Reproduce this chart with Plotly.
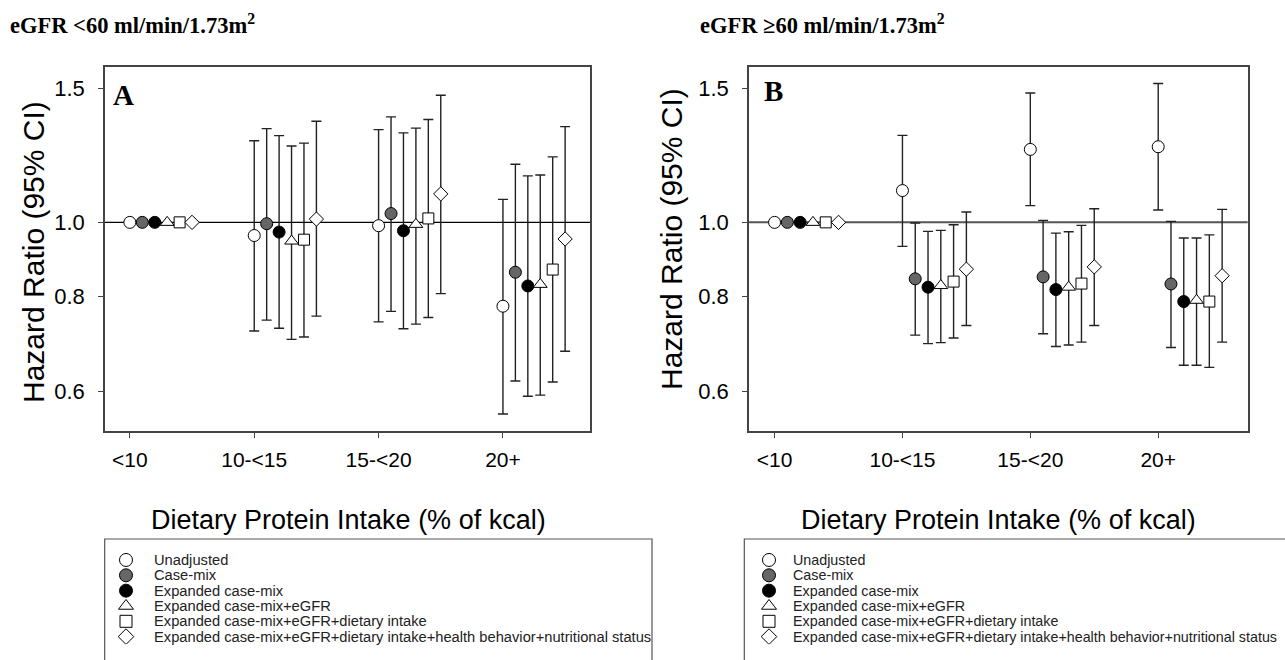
import math
import plotly.graph_objects as go

W, H = 1285, 660

categories = ["<10", "10-<15", "15-<20", "20+"]
models = [
    "Unadjusted",
    "Case-mix",
    "Expanded case-mix",
    "Expanded case-mix+eGFR",
    "Expanded case-mix+eGFR+dietary intake",
    "Expanded case-mix+eGFR+dietary intake+health behavior+nutritional status",
]

# Panel A: eGFR <60 ; reference category (<10) HR = 1.0 for every model
ref_hr = [1.0, 1.0, 1.0, 1.0, 1.0, 1.0]
a_hr = [
    [0.961, 0.990, 0.776],
    [0.996, 1.027, 0.860],
    [0.971, 0.975, 0.825],
    [0.945, 0.994, 0.829],
    [0.949, 1.012, 0.867],
    [1.010, 1.090, 0.951],
]
a_lo = [
    [0.720, 0.740, 0.560],
    [0.744, 0.764, 0.619],
    [0.726, 0.725, 0.591],
    [0.702, 0.735, 0.593],
    [0.707, 0.750, 0.617],
    [0.753, 0.806, 0.677],
]
a_hi = [
    [1.280, 1.324, 1.072],
    [1.328, 1.376, 1.192],
    [1.300, 1.311, 1.151],
    [1.260, 1.330, 1.154],
    [1.271, 1.365, 1.219],
    [1.358, 1.469, 1.336],
]

# Panel B: eGFR >=60
b_hr = [
    [1.101, 1.247, 1.257],
    [0.843, 0.848, 0.830],
    [0.822, 0.816, 0.787],
    [0.826, 0.822, 0.790],
    [0.836, 0.831, 0.787],
    [0.868, 0.874, 0.851],
]
b_lo = [
    [0.930, 1.052, 1.038],
    [0.711, 0.714, 0.685],
    [0.693, 0.687, 0.649],
    [0.695, 0.690, 0.649],
    [0.705, 0.696, 0.645],
    [0.732, 0.732, 0.696],
]
b_hi = [
    [1.301, 1.479, 1.522],
    [0.998, 1.006, 1.003],
    [0.973, 0.968, 0.954],
    [0.976, 0.972, 0.954],
    [0.993, 0.991, 0.963],
    [1.032, 1.042, 1.040],
]

y_ticks = [0.6, 0.8, 1.0, 1.5]

# ---- styles ----
symbols = ["circle", "circle", "circle", "triangle-up", "square", "diamond"]
fills = ["white", "#666666", "black", "white", "white", "white"]
sizes = [12, 12, 12, 12, 11, 11]
offset_step = 0.1

def px_x(v):
    return v / W

def px_y(v):
    return 1 - v / H

fig = go.Figure()

panels = [
    ("x", "y", a_hr, a_lo, a_hi),
    ("x2", "y2", b_hr, b_lo, b_hi),
]

for xa, ya, hr, lo, hi in panels:
    for k, name in enumerate(models):
        marker = dict(symbol=symbols[k], color=fills[k], size=sizes[k],
                      line=dict(color="black", width=1))
        # reference category point (no CI)
        fig.add_trace(go.Scatter(
            x=[0 + offset_step * k], y=[ref_hr[k]], mode="markers",
            marker=marker, xaxis=xa, yaxis=ya, showlegend=False, name=name,
        ))
        xs = [i + offset_step * k for i in range(1, len(categories))]
        fig.add_trace(go.Scatter(
            x=xs, y=hr[k], mode="markers", marker=marker,
            xaxis=xa, yaxis=ya, showlegend=False, name=name,
            error_y=dict(type="data", symmetric=False,
                         array=[h - v for h, v in zip(hi[k], hr[k])],
                         arrayminus=[v - l for v, l in zip(hr[k], lo[k])],
                         color="#222222", thickness=1.4, width=5),
        ))

# ---- manual legends (hidden overlay axis in pixel units) ----
legend_rows_y = [560 + 15.33 * i for i in range(len(models))]
legend_sets = [(126, 152), (769, 791)]
for mx, tx in legend_sets:
    for k, name in enumerate(models):
        fig.add_trace(go.Scatter(
            x=[mx], y=[k], mode="markers",
            marker=dict(symbol=symbols[k], color=fills[k], size=sizes[k] + 1,
                        line=dict(color="black", width=1)),
            xaxis="x3", yaxis="y3", showlegend=False, hoverinfo="skip",
        ))

axis_common = dict(
    showline=True, mirror=True, linecolor="#444444", linewidth=1.5,
    ticks="outside", ticklen=5, tickcolor="#444444", tickwidth=1.2,
    showgrid=False, zeroline=False,
)
y_dom = [px_y(431), px_y(67)]
yrange = [math.log10(0.532), math.log10(1.6)]
cat_text = [c.replace("<", "&lt;") for c in categories]

fig.update_layout(
    width=W, height=H,
    margin=dict(l=0, r=0, t=0, b=0),
    paper_bgcolor="white", plot_bgcolor="white",
    font=dict(family="Liberation Sans, Arial, sans-serif", color="black"),
    showlegend=False,
    xaxis=dict(domain=[px_x(105), px_x(590)], range=[-0.2, 3.7], anchor="y",
               tickvals=list(range(len(categories))), ticktext=cat_text,
               tickfont=dict(size=21), ticklabelstandoff=4, **axis_common),
    yaxis=dict(domain=y_dom, type="log", range=yrange, anchor="x",
               tickvals=y_ticks, ticktext=[f"{t:.1f}" for t in y_ticks],
               tickfont=dict(size=22), ticklabelstandoff=9, **axis_common),
    xaxis2=dict(domain=[px_x(749), px_x(1247.7)], range=[-0.2, 3.7], anchor="y2",
                tickvals=list(range(len(categories))), ticktext=cat_text,
                tickfont=dict(size=21), ticklabelstandoff=4, **axis_common),
    yaxis2=dict(domain=y_dom, type="log", range=yrange, anchor="x2",
                tickvals=y_ticks, ticktext=[f"{t:.1f}" for t in y_ticks],
                tickfont=dict(size=22), ticklabelstandoff=9, **axis_common),
    xaxis3=dict(domain=[0, 1], range=[0, W], visible=False, anchor="y3",
                fixedrange=True),
    yaxis3=dict(domain=[px_y(644.3), px_y(552.3)], range=[5.5, -0.5],
                visible=False, anchor="x3", fixedrange=True),
)

# reference lines at HR = 1.0
fig.add_shape(type="line", xref="x domain", yref="y", x0=0, x1=1, y0=1.0, y1=1.0,
              line=dict(color="black", width=1.3), layer="below")
fig.add_shape(type="line", xref="x2 domain", yref="y2", x0=0, x1=1, y0=1.0, y1=1.0,
              line=dict(color="#555555", width=2), layer="below")

# legend boxes
fig.add_shape(type="rect", xref="paper", yref="paper",
              x0=px_x(104.7), x1=px_x(652), y0=-0.05, y1=px_y(539),
              line=dict(color="#555555", width=1.2))
fig.add_shape(type="rect", xref="paper", yref="paper",
              x0=px_x(744.3), x1=1.05, y0=-0.05, y1=px_y(539),
              line=dict(color="#555555", width=1.2))

ann = []
for (mx, tx), fs in zip(legend_sets, [14.7, 14.3]):
    for k, name in enumerate(models):
        ann.append(dict(x=px_x(tx), y=px_y(legend_rows_y[k]), xref="paper", yref="paper",
                        text=name, showarrow=False, xanchor="left", yanchor="middle",
                        font=dict(size=fs, color="#222222")))

serif = "Liberation Serif, Times New Roman, serif"
titles = [("eGFR &lt;60 ml/min/1.73m<sup>2</sup>", 10), ("eGFR ≥60 ml/min/1.73m<sup>2</sup>", 700)]
for t, x0 in titles:
    ann.append(dict(x=px_x(x0 - 2), y=px_y(24), xref="paper", yref="paper", text=f"<b>{t}</b>",
                    showarrow=False, xanchor="left", yanchor="middle",
                    font=dict(family=serif, size=22.5, color="black")))

for letter, lx, ly in [("A", 111, 95), ("B", 762, 91)]:
    ann.append(dict(x=px_x(lx), y=px_y(ly), xref="paper", yref="paper", text=f"<b>{letter}</b>",
                    showarrow=False, xanchor="left", yanchor="middle",
                    font=dict(family=serif, size=29, color="black")))

for cx, cy in [(33, 252), (672, 239)]:
    ann.append(dict(x=px_x(cx), y=px_y(cy), xref="paper", yref="paper",
                    text="Hazard Ratio (95% CI)", textangle=-90, showarrow=False,
                    xanchor="center", yanchor="middle", font=dict(size=30)))

for cx in [348, 998]:
    ann.append(dict(x=px_x(cx), y=px_y(520), xref="paper", yref="paper",
                    text="Dietary Protein Intake (% of kcal)", showarrow=False,
                    xanchor="center", yanchor="middle", font=dict(size=27)))

fig.update_layout(annotations=ann)
fig.write_html("out.html", config={"displayModeBar": False},
               post_script="document.body.style.margin='0px';")
